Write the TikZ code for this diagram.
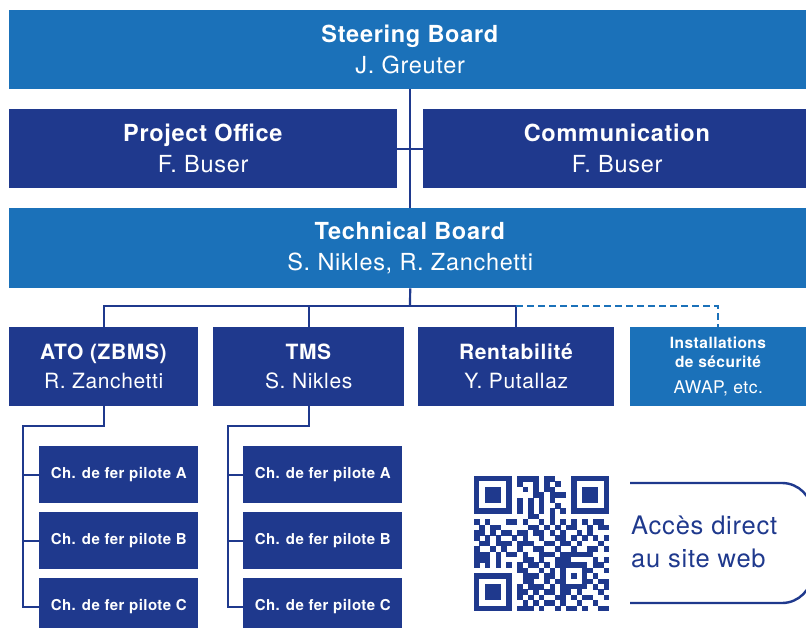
\documentclass[tikz,border=0pt]{standalone}
\usepackage{fontspec}
\setmainfont{TeX Gyre Heros}[LetterSpace=3]
\usetikzlibrary{positioning}

\definecolor{boardblue}{RGB}{27,113,185}
\definecolor{teamblue}{RGB}{31,57,141}

\tikzset{
  board/.style={fill=boardblue, text=white, anchor=north west, inner sep=0pt,
    align=center, font=\fontsize{23.5}{31}\selectfont},
  office/.style={board, fill=teamblue},
  team/.style={fill=teamblue, text=white, anchor=north west, inner sep=0pt,
    align=center, minimum height=79pt, font=\fontsize{21}{29}\selectfont},
  pilot/.style={fill=teamblue, text=white, anchor=north west, inner sep=0pt,
    minimum width=159pt, minimum height=57pt, font=\fontsize{15}{18}\selectfont\bfseries},
  link/.style={draw=teamblue, line width=2.2pt},
}

\begin{document}
\begin{tikzpicture}[x=1pt,y=-1pt]
    \useasboundingbox (0,0) rectangle (806,627);
    \clip (0,0) rectangle (806,627);

    % boards
    \node[board, minimum width=802pt, minimum height=79pt] (steer) at (9,10) {\textbf{Steering Board}\\J. Greuter};
    \node[office, minimum width=388pt, minimum height=79pt] (office) at (9,109) {\textbf{Project Office}\\F. Buser};
    \node[office, minimum width=388pt, minimum height=79pt] (comm) at (423,109) {\textbf{Communication}\\F. Buser};
    \node[board, minimum width=802pt, minimum height=80pt] (tech) at (9,208) {\textbf{Technical Board}\\S. Nikles, R. Zanchetti};

    % teams
    \node[team, minimum width=189pt] (ato) at (9,327) {\textbf{ATO (ZBMS)}\\R. Zanchetti};
    \node[team, minimum width=191pt] (tms) at (213,327) {\textbf{TMS}\\S. Nikles};
    \node[team, minimum width=196pt] (rent) at (418,327) {\textbf{Rentabilité}\\Y. Putallaz};
    \node[team, fill=boardblue, minimum width=176pt, font=\fontsize{17.5}{19}\selectfont] (secu) at (630,327)
        {\textbf{\fontsize{15.5}{18}\selectfont Installations}\\\textbf{\fontsize{15.5}{18}\selectfont de sécurité}\\[7pt]AWAP, etc.};

    % pilot railways
    \foreach \col/\x in {ato/39,tms/243}
        \foreach \p/\y in {A/446,B/512,C/578}
            \node[pilot] (\col\p) at (\x,\y) {Ch. de fer pilote \p};

    \draw[link] (steer.south) -- (tech.north);
    \draw[link] (office.east) -- (comm.west);
    \coordinate (bus) at (410,306);
    \draw[link] (tech.south) -- (bus);
    \draw[link] (ato.north) |- (bus) -| (rent.north);
    \draw[link] (tms.north) -- (tms.north |- bus);
    \draw[link, draw=boardblue, dash pattern=on 7pt off 4pt] (rent.north |- bus) -| (secu.north);

    \foreach \col/\sx in {ato/23,tms/228} {
        \coordinate (\col spine) at (\sx,426);
        \draw[link] (\col.south) |- (\col spine) |- (\col C.west);
        \foreach \p in {A,B}
            \draw[link] (\col spine |- \col\p.west) -- (\col\p.west);
    }

    % QR code
    \begin{scope}[shift={(474,476)}, x=5.4pt, y=-5.4pt]
        \foreach \fx/\fy in {0/0,18/0,0/18} {
            \fill[teamblue] (\fx,\fy) rectangle ++(7,7);
            \fill[white] (\fx+1,\fy+1) rectangle ++(5,5);
            \fill[teamblue] (\fx+2,\fy+2) rectangle ++(3,3);
        }
        \fill[teamblue] (16,16) rectangle ++(5,5);
        \fill[white] (17,17) rectangle ++(3,3);
        \fill[teamblue] (18,18) rectangle ++(1,1);
        \foreach \r/\cs in {0/{8,9,10,11,13,14},1/{8,11,13,15},2/{9,11,13,14},
            3/{11,12,14,15,16},4/{8,10,12,14},5/{8,10,12,15},6/{8,10,12,14,16},
            7/{10,11,14},8/{0,2,6,7,9,12,14,16,18,20,22,23},
            9/{1,3,4,10,11,13,15,17,18,21,23,24},10/{0,1,3,5,6,8,9,11,12,14,16,19,21},
            11/{0,2,4,7,9,12,15,16,18,20,22,24},12/{1,2,4,5,6,8,9,10,13,14,16,17,19,23},
            13/{0,3,5,8,11,12,15,18,21,22,24},14/{0,1,2,4,6,7,9,12,13,14,16,17,18,19,20,21},
            15/{0,1,2,4,9,10,12,15,16,17,22,24},16/{0,2,4,6,8,10,11,13,15,22,23},
            17/{8,9,12,14,21,24},18/{9,10,11,13,14,22},19/{9,10,13,15,21,23,24},
            20/{8,10,11,12,14,22,24},21/{8,9,11,13,14,16,17,19,23},
            22/{8,10,12,15,16,18,20,21,24},23/{9,11,13,14,16,19,22},
            24/{8,9,10,12,15,17,18,20,23,24}}
            \foreach \c in \cs
                \fill[teamblue] (\c,\r) rectangle ++(1.02,1.02);
    \end{scope}

    % web link
    \node[anchor=west, text=teamblue, align=left, inner sep=0pt, font=\fontsize{25.5}{33}\selectfont] (web) at (631,542) {Accès direct\\au site web};
    \draw[teamblue, line width=2.4pt, rounded corners=30pt] (630,483) -- (812,483) -- (812,603) -- (630,603);
\end{tikzpicture}
\end{document}
